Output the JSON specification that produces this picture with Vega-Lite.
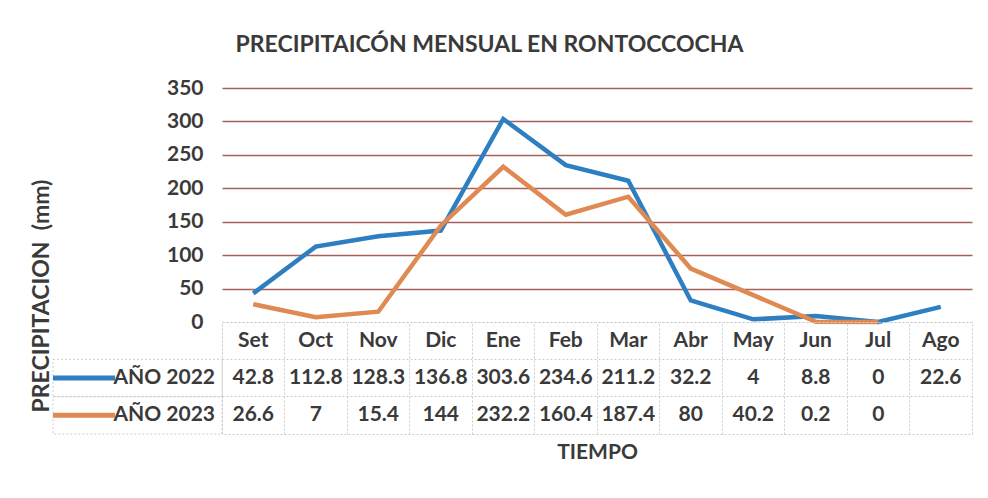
{
  "$schema": "https://vega.github.io/schema/vega-lite/v6.json",
  "background": "white",
  "padding": {"left": 30, "top": 34, "right": 16, "bottom": 10},
  "config": {
    "view": {"stroke": null},
    "font": "Lato",
    "text": {"font": "Lato"}
  },
  "title": {
    "text": "PRECIPITAICÓN MENSUAL EN RONTOCCOCHA",
    "fontSize": 23,
    "fontWeight": "bold",
    "color": "#3a3a3a",
    "anchor": "middle",
    "dx": -12,
    "offset": 20
  },
  "datasets": {
    "lluvia": [
      {"mes": "Set", "serie": "AÑO 2022", "valor": 42.8},
      {"mes": "Oct", "serie": "AÑO 2022", "valor": 112.8},
      {"mes": "Nov", "serie": "AÑO 2022", "valor": 128.3},
      {"mes": "Dic", "serie": "AÑO 2022", "valor": 136.8},
      {"mes": "Ene", "serie": "AÑO 2022", "valor": 303.6},
      {"mes": "Feb", "serie": "AÑO 2022", "valor": 234.6},
      {"mes": "Mar", "serie": "AÑO 2022", "valor": 211.2},
      {"mes": "Abr", "serie": "AÑO 2022", "valor": 32.2},
      {"mes": "May", "serie": "AÑO 2022", "valor": 4},
      {"mes": "Jun", "serie": "AÑO 2022", "valor": 8.8},
      {"mes": "Jul", "serie": "AÑO 2022", "valor": 0},
      {"mes": "Ago", "serie": "AÑO 2022", "valor": 22.6},
      {"mes": "Set", "serie": "AÑO 2023", "valor": 26.6},
      {"mes": "Oct", "serie": "AÑO 2023", "valor": 7},
      {"mes": "Nov", "serie": "AÑO 2023", "valor": 15.4},
      {"mes": "Dic", "serie": "AÑO 2023", "valor": 144},
      {"mes": "Ene", "serie": "AÑO 2023", "valor": 232.2},
      {"mes": "Feb", "serie": "AÑO 2023", "valor": 160.4},
      {"mes": "Mar", "serie": "AÑO 2023", "valor": 187.4},
      {"mes": "Abr", "serie": "AÑO 2023", "valor": 80},
      {"mes": "May", "serie": "AÑO 2023", "valor": 40.2},
      {"mes": "Jun", "serie": "AÑO 2023", "valor": 0.2},
      {"mes": "Jul", "serie": "AÑO 2023", "valor": 0}
    ],
    "meses": [
      {"mes": "Set"}, {"mes": "Oct"}, {"mes": "Nov"}, {"mes": "Dic"},
      {"mes": "Ene"}, {"mes": "Feb"}, {"mes": "Mar"}, {"mes": "Abr"},
      {"mes": "May"}, {"mes": "Jun"}, {"mes": "Jul"}, {"mes": "Ago"}
    ],
    "series": [{"serie": "AÑO 2022"}, {"serie": "AÑO 2023"}],
    "ytitulo": [{"t": "PRECIPITACION\u00a0 (mm)"}]
  },
  "columns": 2,
  "spacing": 0,
  "bounds": "flush",
  "concat": [
    {
      "width": 169,
      "height": 234,
      "data": {"name": "ytitulo"},
      "mark": {"type": "text", "angle": 270, "fontSize": 23, "fontWeight": "bold", "color": "#3a3a3a", "dy": -96, "dx": -91},
      "encoding": {"text": {"field": "t", "type": "nominal"}}
    },
    {
      "width": 750,
      "height": 234,
      "data": {"name": "lluvia"},
      "mark": {"type": "line", "strokeWidth": 4.5},
      "encoding": {
        "x": {
          "field": "mes", "type": "nominal",
          "scale": {"type": "point", "padding": 0.5, "domain": ["Set","Oct","Nov","Dic","Ene","Feb","Mar","Abr","May","Jun","Jul","Ago"]},
          "axis": null
        },
        "y": {
          "field": "valor", "type": "quantitative",
          "scale": {"domain": [0, 350], "nice": false},
          "axis": {
            "values": [0, 50, 100, 150, 200, 250, 300, 350],
            "grid": true,
            "gridColor": {"expr": "datum.value == 0 ? 'transparent' : '#a4605a'"},
            "gridWidth": 1.5,
            "domain": false,
            "ticks": false,
            "labelFontSize": 21,
            "labelFontWeight": "bold",
            "labelColor": "#3a3a3a",
            "labelPadding": 19,
            "title": null
          }
        },
        "color": {
          "field": "serie", "type": "nominal",
          "scale": {"domain": ["AÑO 2022", "AÑO 2023"], "range": ["#2e7fc2", "#de8a52"]},
          "legend": null
        }
      }
    },
    {
      "width": 169,
      "height": 112,
      "data": {"name": "series"},
      "layer": [
        {
          "mark": {"type": "rect", "fill": "transparent", "stroke": "#cccccc", "strokeWidth": 1, "strokeDash": [2, 2]},
          "encoding": {
            "y": {"field": "serie", "type": "nominal", "scale": {"type": "band", "domain": ["hdr", "AÑO 2022", "AÑO 2023"], "paddingInner": 0, "paddingOuter": 0}, "axis": null}
          }
        },
        {
          "mark": {"type": "point", "shape": "M-1,0H1", "filled": false, "strokeWidth": 5, "size": 3844, "opacity": 1, "xOffset": -53.5},
          "encoding": {
            "y": {"field": "serie", "type": "nominal", "scale": {"type": "band", "domain": ["hdr", "AÑO 2022", "AÑO 2023"], "paddingInner": 0, "paddingOuter": 0}, "axis": null},
            "color": {"field": "serie", "type": "nominal", "scale": {"domain": ["AÑO 2022", "AÑO 2023"], "range": ["#2e7fc2", "#de8a52"]}, "legend": null}
          }
        },
        {
          "mark": {"type": "text", "align": "right", "dx": 77.5, "fontSize": 21, "fontWeight": "bold", "color": "#3a3a3a"},
          "encoding": {
            "y": {"field": "serie", "type": "nominal", "scale": {"type": "band", "domain": ["hdr", "AÑO 2022", "AÑO 2023"], "paddingInner": 0, "paddingOuter": 0}, "axis": null},
            "text": {"field": "serie", "type": "nominal"}
          }
        }
      ]
    },
    {
      "width": 750,
      "height": 112,
      "view": {"stroke": "#cccccc", "strokeDash": [2, 2]},
      "layer": [
        {
          "data": {"name": "lluvia"},
          "mark": {"type": "text", "fontSize": 21, "fontWeight": "bold", "color": "#3a3a3a"},
          "encoding": {
            "x": {
              "field": "mes", "type": "nominal",
              "scale": {"type": "band", "paddingInner": 0, "paddingOuter": 0, "domain": ["Set","Oct","Nov","Dic","Ene","Feb","Mar","Abr","May","Jun","Jul","Ago"]},
              "axis": {"labels": false, "ticks": false, "domain": false, "grid": true, "bandPosition": 0, "gridColor": "#cccccc", "gridDash": [2, 2], "title": "TIEMPO", "titleFontSize": 21, "titleFontWeight": "bold", "titleColor": "#3a3a3a", "titlePadding": 7}
            },
            "y": {
              "field": "serie", "type": "nominal",
              "scale": {"type": "band", "domain": ["hdr", "AÑO 2022", "AÑO 2023"], "paddingInner": 0, "paddingOuter": 0},
              "axis": {"labels": false, "ticks": false, "domain": false, "grid": true, "bandPosition": 0, "gridColor": "#cccccc", "gridDash": [2, 2], "title": null}
            },
            "text": {"field": "valor", "type": "nominal"}
          }
        },
        {
          "data": {"name": "meses"},
          "mark": {"type": "text", "fontSize": 21, "fontWeight": "bold", "color": "#3a3a3a"},
          "encoding": {
            "x": {
              "field": "mes", "type": "nominal",
              "scale": {"type": "band", "paddingInner": 0, "paddingOuter": 0, "domain": ["Set","Oct","Nov","Dic","Ene","Feb","Mar","Abr","May","Jun","Jul","Ago"]},
              "axis": {"labels": false, "ticks": false, "domain": false, "grid": true, "bandPosition": 0, "gridColor": "#cccccc", "gridDash": [2, 2], "title": "TIEMPO", "titleFontSize": 21, "titleFontWeight": "bold", "titleColor": "#3a3a3a", "titlePadding": 7}
            },
            "y": {"datum": "hdr", "type": "nominal"},
            "text": {"field": "mes", "type": "nominal"}
          }
        }
      ]
    }
  ]
}
